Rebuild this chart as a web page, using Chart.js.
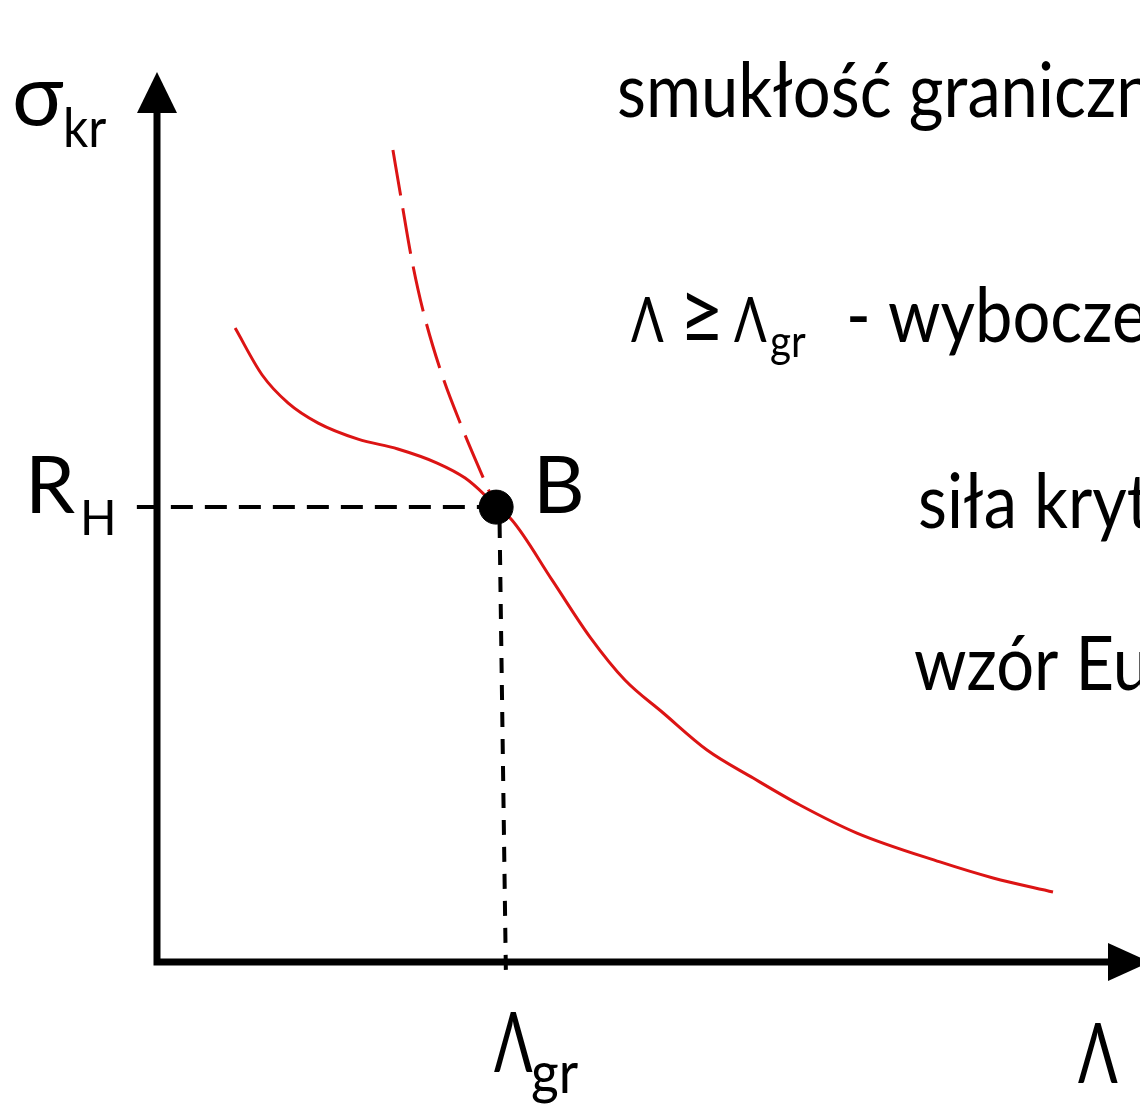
<!DOCTYPE html>
<html lang="pl">
<head>
<meta charset="utf-8">
<title>Wykres Tetmajera-Eulera</title>
<script src="https://cdn.jsdelivr.net/npm/chart.js@4/dist/chart.umd.min.js"></script>
<style>
  html, body { margin: 0; padding: 0; background: #fff; }
  canvas { display: block; }
</style>
</head>
<body>
<canvas id="sigmaChart" width="1140" height="1107"></canvas>
<script>
// slenderness (lambda) and critical stress (sigma)
const lambdaTetmajer = [15.9, 21.4, 26.7, 32.8, 40.9, 49.0, 57.0, 62.7, 66.7, 69];
const sigmaTetmajer = [320.5, 296.8, 282.6, 272.5, 264.4, 259.4, 252.3, 244.7, 236.1, 230];

const lambdaEulerDashed = [48.0, 49.8, 51.7, 54.1, 58.0, 62.1, 65.7, 69];
const sigmaEulerDashed = [410.5, 384.2, 356.9, 329.6, 296.8, 270.0, 248.7, 230];

const lambdaEuler = [69, 72.2, 80.4, 88.1, 95.2, 103.0, 111.9, 121.3, 130.8, 142.4, 159.3, 170.1, 182.3];
const sigmaEuler = [230, 223.5, 193.1, 164.3, 142.6, 125.9, 107.2, 93.0, 79.4, 65.2, 50.6, 42.5, 35.4];

// limit slenderness and proportional limit (point B)
const lambdaGr = 69;
const sigmaRH = 230;

const RED = "#dc1414";
const FONT = "Lato, 'Open Sans', sans-serif";

function toPoints(xs, ys) {
  return xs.map((x, i) => ({ x: x, y: ys[i] }));
}

// axes with arrowheads
const axesPlugin = {
  id: "axesPlugin",
  beforeDatasetsDraw(chart) {
    const { ctx, scales } = chart;
    const x0 = scales.x.getPixelForValue(0);
    const y0 = scales.y.getPixelForValue(0);
    const top = chart.chartArea.top;
    const right = chart.chartArea.right;
    ctx.save();
    ctx.strokeStyle = "#000";
    ctx.fillStyle = "#000";
    ctx.lineWidth = 7;
    ctx.beginPath();
    ctx.moveTo(x0, y0 + 3.5);
    ctx.lineTo(x0, top + 40);
    ctx.moveTo(x0 - 3.5, y0);
    ctx.lineTo(right - 30, y0);
    ctx.stroke();

    ctx.beginPath();
    ctx.moveTo(x0, top);
    ctx.lineTo(x0 - 20, top + 41);
    ctx.lineTo(x0 + 20, top + 41);
    ctx.closePath();
    ctx.fill();

    ctx.beginPath();
    ctx.moveTo(right + 10, y0);
    ctx.lineTo(right - 32, y0 - 19);
    ctx.lineTo(right - 32, y0 + 19);
    ctx.closePath();
    ctx.fill();
    ctx.restore();
  }
};

// labels and the description on the right
const labelsPlugin = {
  id: "labelsPlugin",
  afterDraw(chart) {
    const { ctx } = chart;
    ctx.save();
    ctx.fillStyle = "#000";
    ctx.textBaseline = "alphabetic";
    ctx.textAlign = "left";

    // sx squeezes the glyphs horizontally
    const put = (text, size, x, y, sx = 1) => {
      ctx.save();
      ctx.font = size + "px " + FONT;
      ctx.translate(x, y);
      ctx.scale(sx, 1);
      ctx.fillText(text, 0, 0);
      ctx.restore();
    };

    // axis names
    put("σ", 86, 12, 125);
    put("kr", 54, 63, 147, 0.92);
    put("Λ", 84, 494, 1072, 0.68);
    put("gr", 58, 531, 1093, 0.92);
    put("Λ", 84, 1078, 1083, 0.7);

    // point labels
    put("R", 80, 25, 513);
    put("H", 48, 80, 535);
    put("B", 80, 533, 513);

    // text block
    put("smukłość graniczna", 76, 617, 117, 0.88);
    put("Λ", 62, 631, 342, 0.78);
    put("≥", 88, 679, 344, 0.9);
    put("Λ", 62, 734, 342, 0.78);
    put("gr", 44, 770, 357, 0.92);
    put("- wyboczenie sprężyste", 76, 846, 342, 0.88);
    put("siła krytyczna", 76, 918, 528, 0.88);
    put("wzór Eulera", 76, 914, 690, 0.88);
    ctx.restore();
  }
};

new Chart(document.getElementById("sigmaChart"), {
  type: "scatter",
  data: {
    datasets: [
      {
        label: "R_H",
        data: [{ x: -4.1, y: sigmaRH }, { x: lambdaGr, y: sigmaRH }],
        showLine: true,
        borderColor: "#000",
        borderWidth: 4,
        borderDash: [22, 12],
        pointRadius: 0,
        clip: false,
        order: 5
      },
      {
        label: "lambda_gr",
        data: [{ x: lambdaGr + 0.7, y: sigmaRH - 8 }, { x: lambdaGr + 2, y: -8 }],
        showLine: true,
        borderColor: "#000",
        borderWidth: 4,
        borderDash: [15, 12],
        pointRadius: 0,
        clip: false,
        order: 5
      },
      {
        label: "Tetmajer-Jasiński",
        data: toPoints(lambdaTetmajer, sigmaTetmajer),
        showLine: true,
        borderColor: RED,
        borderWidth: 3,
        cubicInterpolationMode: "monotone",
        pointRadius: 0,
        order: 3
      },
      {
        label: "Euler (poza zakresem)",
        data: toPoints(lambdaEulerDashed, sigmaEulerDashed),
        showLine: true,
        borderColor: RED,
        borderWidth: 3,
        borderDash: [46, 13],
        cubicInterpolationMode: "monotone",
        pointRadius: 0,
        order: 3
      },
      {
        label: "Euler",
        data: toPoints(lambdaEuler, sigmaEuler),
        showLine: true,
        borderColor: RED,
        borderWidth: 3,
        cubicInterpolationMode: "monotone",
        pointRadius: 0,
        order: 3
      },
      {
        label: "B",
        data: [{ x: lambdaGr, y: sigmaRH }],
        backgroundColor: "#000",
        borderColor: "#000",
        pointRadius: 17,
        pointHoverRadius: 17,
        clip: false,
        order: 1
      }
    ]
  },
  options: {
    responsive: false,
    animation: false,
    events: [],
    layout: {
      autoPadding: false,
      padding: { left: 157, right: 0, top: 72, bottom: 145 }
    },
    plugins: {
      legend: { display: false },
      tooltip: { enabled: false }
    },
    scales: {
      x: { type: "linear", min: 0, max: 200, display: false },
      y: { type: "linear", min: 0, max: 450, display: false }
    }
  },
  plugins: [axesPlugin, labelsPlugin]
});
</script>
</body>
</html>
